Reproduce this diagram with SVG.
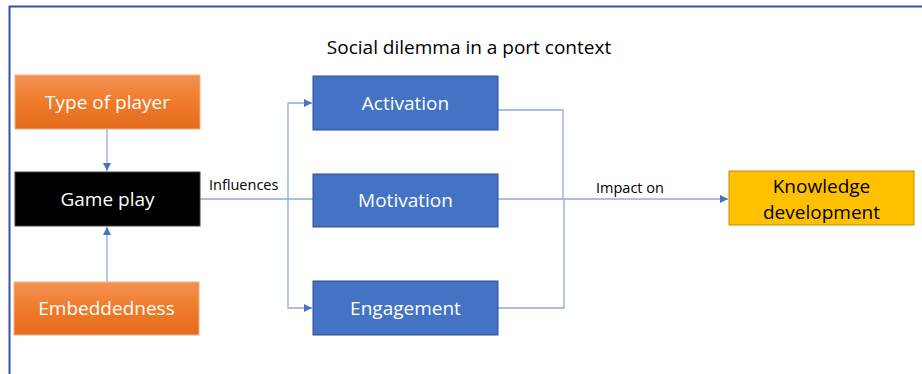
<svg xmlns="http://www.w3.org/2000/svg" width="922" height="374" viewBox="0 0 922 374">
<defs>
<linearGradient id="og" x1="0" y1="0" x2="0" y2="1">
<stop offset="0" stop-color="#F39154"/>
<stop offset="0.5" stop-color="#F07B2A"/>
<stop offset="1" stop-color="#E46C1C"/>
</linearGradient>
<marker id="ah" viewBox="0 0 10 10" refX="10" refY="5" markerWidth="8" markerHeight="8" markerUnits="userSpaceOnUse" orient="auto">
<path d="M0,0 L10,5 L0,10 z" fill="#4472C4"/>
</marker>
</defs>
<style>
.frame{fill:none;stroke:#2F55A4;stroke-width:2}
.orange{fill:url(#og);stroke:#F4B183;stroke-width:1}
.blue{fill:#4472C4;stroke:#2F528F;stroke-width:1}
.black{fill:#000;stroke:#404040;stroke-width:1}
.gold{fill:#FFC000;stroke:#BF9000;stroke-width:1}
.lbl{font-family:"Open Sans","Liberation Sans",sans-serif;font-size:19px;fill:#fff;text-anchor:middle}
.dark{fill:#000}
.small{font-family:"Open Sans","Liberation Sans",sans-serif;font-size:14.5px;fill:#000}
.conn{fill:none;stroke:#8FAADC;stroke-width:1.3}
</style>
<rect width="922" height="374" fill="#fff"/>
<path class="frame" d="M9.5,374 V6.5 H922"/>
<text x="469" y="54" font-family="Open Sans, Liberation Sans, sans-serif" font-size="19" text-anchor="middle" fill="#000">Social dilemma in a port context</text>
<g id="connectors">
<path class="conn" d="M107,129 V171" marker-end="url(#ah)"/>
<path class="conn" d="M107,282 V227" marker-end="url(#ah)"/>
<path class="conn" d="M200,199 H313"/>
<path class="conn" d="M288,199 V103 H312" marker-end="url(#ah)"/>
<path class="conn" d="M288,199 V308 H312" marker-end="url(#ah)"/>
<path class="conn" d="M498,110 H563 V199"/>
<path class="conn" d="M498,308 H564 V199"/>
<path class="conn" d="M498,199 H728" marker-end="url(#ah)"/>
<text class="small" x="209" y="190">Influences</text>
<text class="small" x="596" y="193">Impact on</text>
</g>
<g id="type-of-player">
<rect class="orange" x="15" y="75" width="185" height="54"/>
<text class="lbl" x="107.5" y="109">Type of player</text>
</g>
<g id="game-play">
<rect class="black" x="15" y="172" width="185" height="54"/>
<text class="lbl" x="107.5" y="206">Game play</text>
</g>
<g id="embeddedness">
<rect class="orange" x="14" y="282" width="185" height="53"/>
<text class="lbl" x="106.5" y="315">Embeddedness</text>
</g>
<g id="activation">
<rect class="blue" x="313" y="76" width="185" height="54"/>
<text class="lbl" x="405.5" y="110">Activation</text>
</g>
<g id="motivation">
<rect class="blue" x="313" y="174" width="185" height="53"/>
<text class="lbl" x="405.5" y="207">Motivation</text>
</g>
<g id="engagement">
<rect class="blue" x="313" y="281" width="185" height="54"/>
<text class="lbl" x="405.5" y="315">Engagement</text>
</g>
<g id="knowledge-development">
<rect class="gold" x="729" y="171" width="185" height="54"/>
<text class="lbl dark" x="821.5" y="193" font-size="19.5">Knowledge</text>
<text class="lbl dark" x="821.5" y="219" font-size="19.5">development</text>
</g>
</svg>
